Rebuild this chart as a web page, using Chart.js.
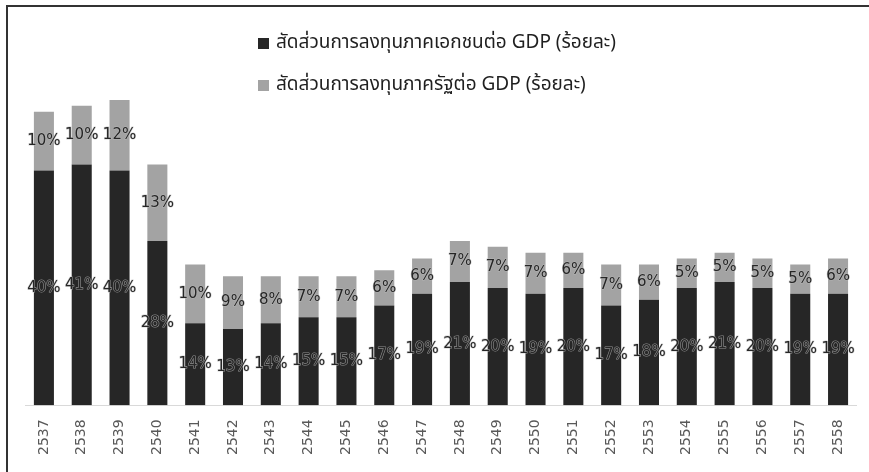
<!DOCTYPE html>
<html>
<head>
<meta charset="utf-8">
<script src="https://cdn.jsdelivr.net/npm/chart.js@4.4.1/dist/chart.umd.min.js"></script>
<style>
  html, body { margin: 0; padding: 0; background: #fff; }
  #wrap { position: relative; width: 869px; height: 472px; }
</style>
</head>
<body>
<div id="wrap"><canvas id="investChart" width="869" height="472"></canvas></div>
<script>
    // ปี พ.ศ.
    const years = ['2537', '2538', '2539', '2540', '2541', '2542', '2543', '2544', '2545', '2546', '2547',
                   '2548', '2549', '2550', '2551', '2552', '2553', '2554', '2555', '2556', '2557', '2558'];

    // สัดส่วนการลงทุนภาคเอกชนต่อ GDP (ร้อยละ)
    const privateShare = [40, 41, 40, 28, 14, 13, 14, 15, 15, 17, 19, 21, 20, 19, 20, 17, 18, 20, 21, 20, 19, 19];

    // สัดส่วนการลงทุนภาครัฐต่อ GDP (ร้อยละ)
    const publicShare = [10, 10, 12, 13, 10, 9, 8, 7, 7, 6, 6, 7, 7, 7, 6, 7, 6, 5, 5, 5, 5, 6];

    const seriesNames = ['สัดส่วนการลงทุนภาคเอกชนต่อ GDP (ร้อยละ)', 'สัดส่วนการลงทุนภาครัฐต่อ GDP (ร้อยละ)'];
    const seriesColors = ['#262626', '#a3a3a3'];

    const thaiFont = '"Noto Sans Thai", "Noto Sans", "DejaVu Sans", sans-serif';

    // กรอบด้านบนและด้านซ้าย
    const framePlugin = {
        id: 'frame',
        beforeDraw(chart) {
            const c = chart.ctx;
            c.save();
            c.fillStyle = '#ffffff';
            c.fillRect(0, 0, chart.width, chart.height);
            c.strokeStyle = '#333333';
            c.lineWidth = 2;
            c.beginPath();
            c.moveTo(7, chart.height);
            c.lineTo(7, 6);
            c.lineTo(chart.width, 6);
            c.stroke();
            c.restore();
        }
    };

    // คำอธิบายสัญลักษณ์ วางสองบรรทัดด้านบน
    const legendPlugin = {
        id: 'stackLegend',
        afterDraw(chart) {
            const c = chart.ctx;
            c.save();
            c.font = '19px ' + thaiFont;
            c.textBaseline = 'middle';
            c.textAlign = 'left';
            seriesNames.forEach((name, i) => {
                const y = 44 + i * 42;
                c.fillStyle = seriesColors[i];
                c.fillRect(258, y - 6, 11, 11);
                c.fillStyle = '#1f1f1f';
                c.fillText(name, 276, y);
            });
            c.restore();
        }
    };

    // ป้ายตัวเลขกลางแท่ง
    const valueLabelPlugin = {
        id: 'valueLabels',
        afterDatasetsDraw(chart) {
            const c = chart.ctx;
            c.save();
            c.font = '15px "DejaVu Sans", Verdana, sans-serif';
            c.textAlign = 'center';
            c.textBaseline = 'middle';
            c.lineJoin = 'round';
            chart.data.datasets.forEach((ds, di) => {
                chart.getDatasetMeta(di).data.forEach((bar, i) => {
                    const y = (bar.y + bar.base) / 2;
                    const txt = ds.data[i] + '%';
                    c.strokeStyle = 'rgba(190,190,190,0.7)';
                    c.lineWidth = 1.2;
                    c.strokeText(txt, bar.x, y);
                    c.fillStyle = '#262626';
                    c.fillText(txt, bar.x, y);
                });
            });
            c.restore();
        }
    };

    new Chart(document.getElementById('investChart'), {
        type: 'bar',
        data: {
            labels: years,
            datasets: [{
                label: seriesNames[0],
                data: privateShare,
                backgroundColor: seriesColors[0]
            }, {
                label: seriesNames[1],
                data: publicShare,
                backgroundColor: seriesColors[1]
            }]
        },
        options: {
            responsive: false,
            animation: false,
            layout: { autoPadding: false, padding: { left: 25, right: 6, top: 53, bottom: 3 } },
            datasets: { bar: { barPercentage: 0.53, categoryPercentage: 1 } },
            scales: {
                x: {
                    stacked: true,
                    grid: { display: false, drawTicks: false },
                    border: { display: true, color: '#d9d9d9', width: 1 },
                    ticks: {
                        minRotation: 90,
                        maxRotation: 90,
                        padding: 14,
                        color: '#595959',
                        font: { family: '"DejaVu Sans", Verdana, sans-serif', size: 14 }
                    }
                },
                y: {
                    stacked: true,
                    display: false,
                    min: 0,
                    max: 60
                }
            },
            plugins: {
                legend: { display: false },
                tooltip: { enabled: false }
            }
        },
        plugins: [framePlugin, legendPlugin, valueLabelPlugin]
    });
</script>
</body>
</html>
